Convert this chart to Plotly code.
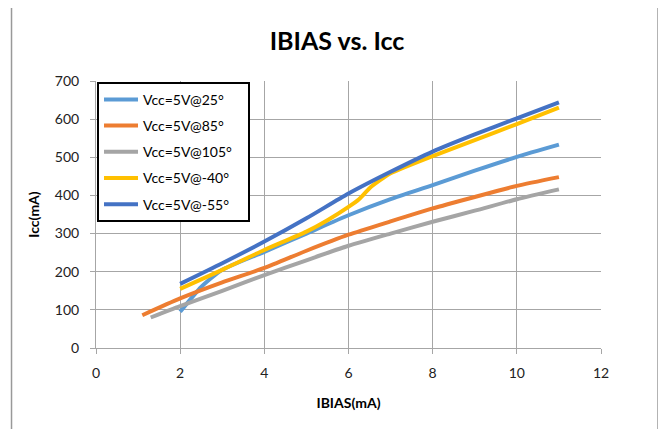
import plotly.graph_objects as go

# Series (IBIAS in mA, Icc in mA)
x_25 = [2.0, 2.5, 3.0, 4.0, 5.0, 6.0, 7.0, 8.0, 9.0, 10.0, 11.0]
y_25 = [95, 160, 205, 252, 300, 348, 390, 427, 465, 501, 533]

x_85 = [1.1, 2.0, 3.0, 4.0, 5.0, 6.0, 7.0, 8.0, 9.0, 10.0, 11.0]
y_85 = [86, 130, 172, 210, 255, 297, 332, 366, 396, 425, 448]

x_105 = [1.3, 2.0, 3.0, 4.0, 5.0, 6.0, 7.0, 8.0, 9.0, 10.0, 11.0]
y_105 = [80, 110, 150, 191, 230, 268, 300, 331, 360, 390, 416]

x_m40 = [2.0, 3.0, 4.0, 5.0, 5.5, 6.0, 6.25, 6.5, 6.75, 7.0, 8.0, 9.0, 10.0, 11.0]
y_m40 = [155, 205, 257, 305, 335, 370, 390, 419, 440, 458, 503, 545, 587, 630]

x_m55 = [2.0, 3.0, 4.0, 5.0, 6.0, 7.0, 8.0, 9.0, 10.0, 11.0]
y_m55 = [168, 222, 279, 340, 405, 462, 515, 560, 602, 644]

names = ["Vcc=5V@25°", "Vcc=5V@85°", "Vcc=5V@105°", "Vcc=5V@-40°", "Vcc=5V@-55°"]
colors = ["#5B9BD5", "#ED7D31", "#A5A5A5", "#FFC000", "#4472C4"]

FONT = "Lato, Carlito, Calibri, sans-serif"
PAD = "\u00a0" * 3  # widen the legend box a bit, like the Excel one

fig = go.Figure()
for i, (xs, ys) in enumerate([(x_25, y_25), (x_85, y_85), (x_105, y_105),
                              (x_m40, y_m40), (x_m55, y_m55)]):
    fig.add_trace(go.Scatter(
        x=xs, y=ys, name=names[i] + PAD, mode="lines",
        line=dict(color=colors[i], width=4, shape="spline", smoothing=0.6),
        legendgroup=f"g{i}",
    ))

# the page body has an 8px margin, so keep the figure inside the window
fig.update_layout(
    width=658, height=421,
    margin=dict(l=88, r=65, t=73, b=81),
    paper_bgcolor="white", plot_bgcolor="white",
    font=dict(family=FONT, color="#222222", size=14),
    title=dict(text="<b>IBIAS vs. Icc</b>", x=0.5, xanchor="center",
               y=0.922, yanchor="middle", font=dict(size=25, color="#000000")),
    showlegend=True,
    legend=dict(x=0.002, y=0.997, xanchor="left", yanchor="top",
                bgcolor="white", bordercolor="#000000", borderwidth=2,
                font=dict(size=14, color="#000000"), tracegroupgap=5,
                itemwidth=34),
)

fig.update_xaxes(
    range=[0, 12], dtick=2, tick0=0,
    showgrid=True, gridcolor="#A6A6A6", gridwidth=1,
    showline=True, linecolor="#A6A6A6", linewidth=1,
    ticks="outside", ticklen=5, tickcolor="#A6A6A6", ticklabelstandoff=7,
    zeroline=False,
    title=dict(text="<b>IBIAS(mA)</b>", font=dict(size=14, color="#000000"), standoff=18),
)
fig.update_yaxes(
    range=[0, 700], dtick=100, tick0=0,
    showgrid=True, gridcolor="#A6A6A6", gridwidth=1,
    showline=True, linecolor="#A6A6A6", linewidth=1,
    ticks="outside", ticklen=5, tickcolor="#A6A6A6", ticklabelstandoff=8,
    zeroline=False,
    title=dict(text="<b>Icc(mA)</b>", font=dict(size=14, color="#000000"), standoff=11),
)

# chart frame around the whole picture
fig.add_shape(type="rect", xref="paper", yref="paper",
              x0=-0.1673, x1=1.1129, y0=-0.345, y1=1.3015,
              line=dict(color="#999999", width=1.5), layer="below")

fig.write_html("out.html")
